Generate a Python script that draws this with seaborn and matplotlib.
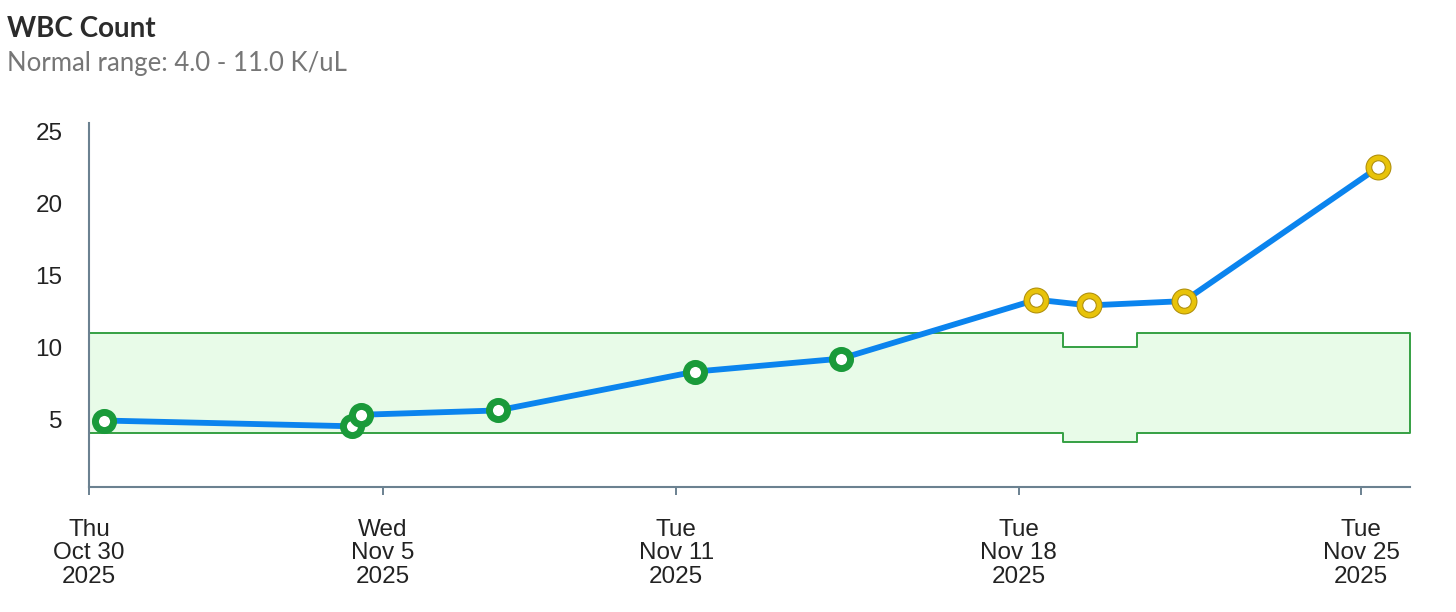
import numpy as np
import pandas as pd
import matplotlib
matplotlib.use("Agg")
import matplotlib.pyplot as plt
import seaborn as sns

# readings
times = [
    "2025-10-30 07:20",
    "2025-11-04 08:50",
    "2025-11-04 13:25",
    "2025-11-07 08:30",
    "2025-11-11 09:20",
    "2025-11-14 08:50",
    "2025-11-18 08:40",
    "2025-11-19 10:35",
    "2025-11-21 09:10",
    "2025-11-25 08:25",
]
wbc = [4.9, 4.5, 5.3, 5.6, 8.3, 9.2, 13.3, 12.9, 13.2, 22.5]
range_low = [4.0, 4.0, 4.0, 4.0, 4.0, 4.0, 4.0, 3.4, 4.0, 4.0]
range_high = [11.0, 11.0, 11.0, 11.0, 11.0, 11.0, 11.0, 10.0, 11.0, 11.0]

tick_dates = ["2025-10-30", "2025-11-05", "2025-11-11", "2025-11-18", "2025-11-25"]
x_start = "2025-10-30"
x_end = "2025-11-26"

BLUE = "#0b84ee"
GREEN = "#1a9a3a"
BAND_EDGE = "#35a043"
BAND_FILL = "#e8fbe8"
YELLOW = "#e8c30a"
GOLD = "#b0900e"
AXIS = "#6b8190"

df = pd.DataFrame({
    "time": pd.to_datetime(times),
    "wbc": wbc,
    "low": range_low,
    "high": range_high,
})
df["status"] = np.where((df["wbc"] > df["high"]) | (df["wbc"] < df["low"]), "high", "normal")

sns.set_style("white")
plt.rcParams["font.family"] = ["Liberation Sans", "DejaVu Sans"]

fig = plt.figure(figsize=(14.56, 6.12), dpi=100)
ax = fig.add_axes([89 / 1456, 1 - 486.7 / 612, (1410 - 89) / 1456, (486.7 - 122.7) / 612])

# normal range band, stepping halfway between readings
t = df["time"].values
mids = t[:-1] + (t[1:] - t[:-1]) / 2
edges = np.concatenate([[np.datetime64(x_start)], mids, [np.datetime64(x_end)]])
lows = np.append(df["low"].values, df["low"].values[-1])
highs = np.append(df["high"].values, df["high"].values[-1])
ax.fill_between(edges, lows, highs, step="post", facecolor=BAND_FILL,
                edgecolor=BAND_EDGE, linewidth=1.4, zorder=1)

sns.lineplot(data=df, x="time", y="wbc", color=BLUE, linewidth=4.2, ax=ax, zorder=3)

normal = df[df["status"] == "normal"]
high = df[df["status"] == "high"]

sns.scatterplot(data=normal, x="time", y="wbc", s=170, facecolor="white",
                edgecolor=GREEN, linewidth=5, ax=ax, zorder=4)

sns.scatterplot(data=high, x="time", y="wbc", s=350, color=GOLD,
                linewidth=0, ax=ax, zorder=4)
sns.scatterplot(data=high, x="time", y="wbc", s=295, color=YELLOW,
                linewidth=0, ax=ax, zorder=5)
sns.scatterplot(data=high, x="time", y="wbc", s=95, facecolor="white",
                edgecolor=GOLD, linewidth=0.8, ax=ax, zorder=6)

ax.set_xlim(np.datetime64(x_start), np.datetime64(x_end))
ax.set_ylim(0.3, 25.6)

ticks = pd.to_datetime(tick_dates)
ax.set_xticks(ticks)
ax.set_xticklabels([f"{d:%a}\n{d:%b} {d.day}\n{d:%Y}" for d in ticks],
                   fontsize=17.5, color="#222222", linespacing=1.1)
ax.set_yticks([5, 10, 15, 20, 25])
ax.set_yticklabels(["5", "10", "15", "20", "25"], fontsize=17.5, color="#222222")

ax.tick_params(axis="x", length=6, width=1.4, color=AXIS, pad=17, direction="out", bottom=True)
ax.tick_params(axis="y", length=0, pad=19)

for side in ["top", "right"]:
    ax.spines[side].set_visible(False)
for side in ["left", "bottom"]:
    ax.spines[side].set_color(AXIS)
    ax.spines[side].set_linewidth(1.5)

ax.set_xlabel("")
ax.set_ylabel("")
ax.grid(False)

fig.text(7 / 1456, 1 - 29 / 612, "WBC Count", fontsize=20, fontweight="bold",
         color="#2b2b2b", family=["Lato", "DejaVu Sans"], va="center", ha="left")
fig.text(7 / 1456, 1 - 64 / 612, "Normal range: 4.0 - 11.0 K/uL", fontsize=18.5,
         color="#767676", family=["Lato", "DejaVu Sans"], va="center", ha="left")

fig.savefig("out.png", dpi=100)
